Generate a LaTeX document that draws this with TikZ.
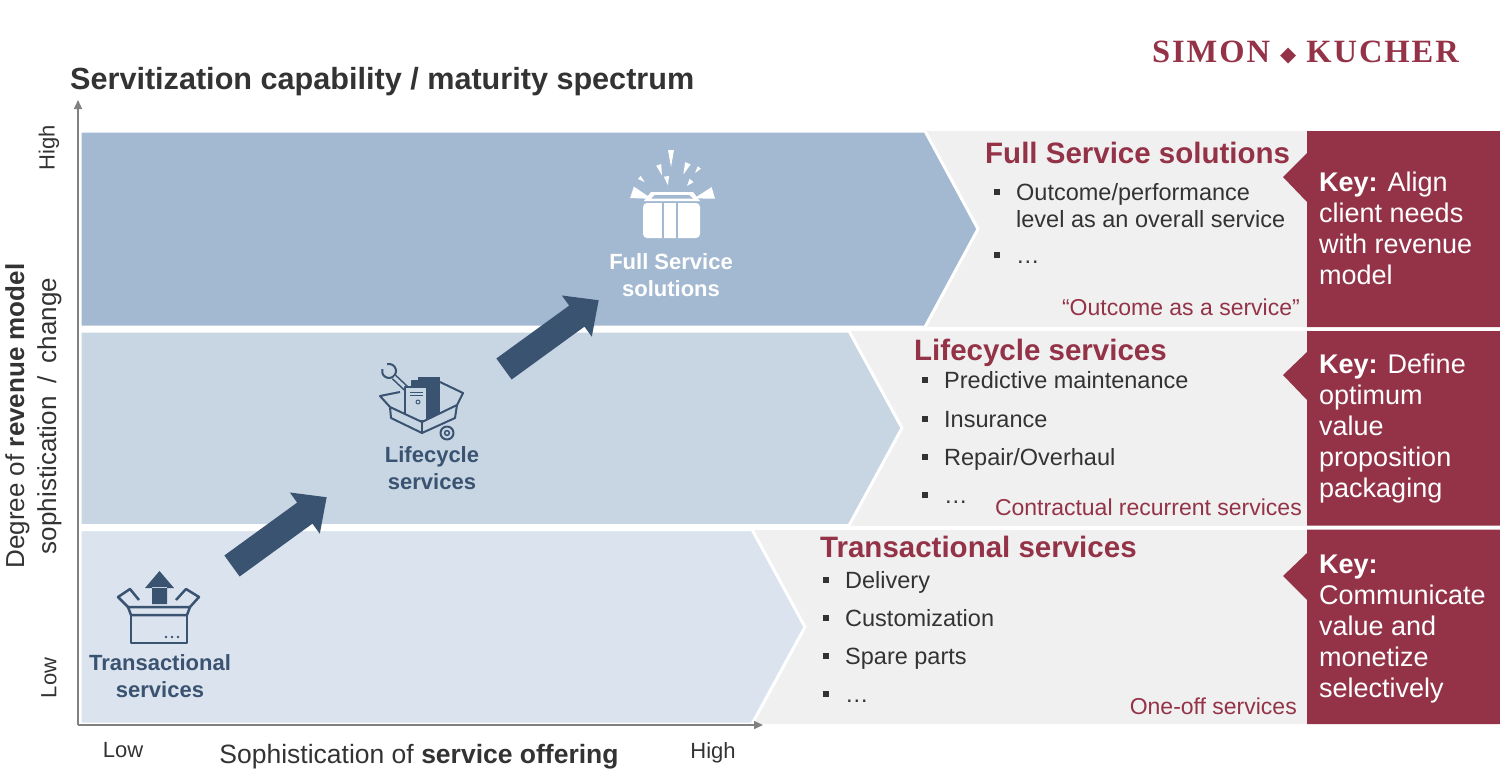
\documentclass[tikz,border=0pt]{standalone}
\usepackage{fontspec}
\setmainfont{Liberation Sans}
\newfontfamily\logofont[LetterSpace=6]{Liberation Serif}
\newfontfamily\symbolfont{DejaVu Sans}
\usetikzlibrary{arrows.meta, positioning}

\definecolor{bandtop}{HTML}{A3B9D1}
\definecolor{bandmid}{HTML}{C8D5E3}
\definecolor{bandlow}{HTML}{DBE4EE}
\definecolor{panelgrey}{HTML}{F0F0F0}
\definecolor{skred}{HTML}{943348}
\definecolor{skblue}{HTML}{3A5371}
\definecolor{txtdark}{HTML}{333333}
\definecolor{axisgrey}{HTML}{808080}

\newcommand{\sqbullet}{\makebox[22pt][l]{\raisebox{5.5pt}{\rule{6pt}{6pt}}}}

\tikzset{
  band/.style={draw=white, line width=3pt},
  heading/.style={anchor=base west, inner sep=0pt, text=skred, font=\fontsize{29.5}{32}\selectfont\bfseries},
  item/.style={anchor=base west, inner sep=0pt, text=txtdark, font=\fontsize{23.5}{27}\selectfont},
  kind/.style={anchor=base east, inner sep=0pt, text=skred, font=\fontsize{23}{27}\selectfont},
  keytext/.style={anchor=base west, inner sep=0pt, align=left, text=white, font=\fontsize{27}{31}\selectfont},
  iconlabel/.style={anchor=base, inner sep=0pt, align=center, font=\fontsize{22}{26.5}\selectfont\bfseries},
  icon/.style={skblue, line width=2.5pt, line join=round},
  bigarrow/.style={fill=skblue},
  axis/.style={draw=axisgrey, line width=1.5pt, -{Triangle[length=9pt, width=8pt]}},
  axistitle/.style={inner sep=0pt, text=txtdark, font=\fontsize{26}{31}\selectfont},
  axisend/.style={inner sep=0pt, text=txtdark, font=\fontsize{22}{26}\selectfont},
}

\begin{document}
\begin{tikzpicture}[x=1pt, y=-1pt]
  \useasboundingbox (0,0) rectangle (1500,780);

  \node[anchor=base west, inner sep=0pt, text=txtdark, font=\fontsize{30.6}{36}\selectfont\bfseries] (title) at (70,89) {Servitization capability / maturity spectrum};
  \node[anchor=base east, inner sep=0pt, text=skred, font=\logofont\fontsize{32.5}{33}\selectfont\bfseries] (logo) at (1459,62) {SIMON \raisebox{1pt}{\symbolfont\fontsize{21}{21}\selectfont ◆} KUCHER};

  % panels behind the chevrons
  \fill[panelgrey] (80,131) rectangle (1307,327);
  \fill[panelgrey] (80,331) rectangle (1307,525.5);
  \fill[panelgrey] (80,529.5) rectangle (1307,724);
  \filldraw[band, fill=bandtop] (80,131) -- (925,131) -- (978,229) -- (925,327) -- (80,327) -- cycle;
  \filldraw[band, fill=bandmid] (80,331) -- (849,331) -- (902,428) -- (849,525.5) -- (80,525.5) -- cycle;
  \filldraw[band, fill=bandlow] (80,529.5) -- (752,529.5) -- (805,627) -- (752,724) -- (80,724) -- cycle;

  \fill[skred] (1307,131) rectangle (1500,327) (1307,153) -- (1283,177) -- (1307,202) -- cycle;
  \fill[skred] (1307,331) rectangle (1500,525.5) (1307,352) -- (1283,375) -- (1307,400) -- cycle;
  \fill[skred] (1307,529.5) rectangle (1500,724) (1307,553) -- (1283,576) -- (1307,600) -- cycle;

  % full service
  \node[heading] (fullhead) at (985,163) {Full Service solutions};
  \node[item] (fullA) at (994,200) {\sqbullet\parbox[t]{280pt}{Outcome/performance\\level as an overall service}};
  \node[item] (fullB) at (994,263) {\sqbullet …};
  \node[kind] (fullkind) at (1300,315) {“Outcome as a service”};
  \node[keytext] (fullkey) at (1319,284) {\textbf{Key:} Align\\client needs\\with revenue\\model};

  % lifecycle
  \node[heading] (lifehead) at (914,360) {Lifecycle services};
  \node[item] (lifeA) at (922,388) {\sqbullet Predictive maintenance};
  \node[item] (lifeB) at (922,427) {\sqbullet Insurance};
  \node[item] (lifeC) at (922,465) {\sqbullet Repair/Overhaul};
  \node[item] (lifeD) at (922,503) {\sqbullet …};
  \node[kind] (lifekind) at (1302,515) {Contractual recurrent services};
  \node[keytext] (lifekey) at (1319,497) {\textbf{Key:} Define\\optimum\\value\\proposition\\packaging};

  % transactional
  \node[heading] (transhead) at (820,557) {Transactional services};
  \node[item] (transA) at (823,588) {\sqbullet Delivery};
  \node[item] (transB) at (823,626) {\sqbullet Customization};
  \node[item] (transC) at (823,664) {\sqbullet Spare parts};
  \node[item] (transD) at (823,702) {\sqbullet …};
  \node[kind] (transkind) at (1297,714) {One-off services};
  \node[keytext] (transkey) at (1319,697) {\textbf{Key:}\\Communicate\\value and\\monetize\\selectively};

  % icons
  \begin{scope}[icon]
    \draw (131,615) rectangle (187,643);
    \draw (128,607) -- (190,607) -- (187,615) -- (131,615) -- cycle;
    \draw (128,607) -- (118,597) -- (130,589) -- (139,600);
    \draw (190,607) -- (199,597) -- (186,589) -- (176,600);
  \end{scope}
  \fill[skblue] (152,587) rectangle (167,604) (145,588) -- (159.5,571) -- (174,588) -- cycle;
  \foreach \dx in {166,172,178}
    \fill[skblue] (\dx,637) circle (1.3);
  \node[iconlabel, text=skblue] (translabel) at (160,697) {Transactional\\services};

  \begin{scope}[icon, line width=2pt]
    \draw (387.2,364.2) arc[start angle=255, end angle=555, radius=7];
    \draw[double=bandmid, double distance=3pt, line width=1.6pt] (394,377) -- (412,394);
    \fill (418,377) rectangle (440,415);
    \filldraw[fill=skblue] (412,381) rectangle (433,418);
    \filldraw[fill=bandmid] (405,387) rectangle (427,421);
    \draw[line width=1pt] (410,392) -- (423,392) (410,395) -- (423,395);
    \draw[line width=1pt] (418,402) circle (2);
    \filldraw[fill=bandmid] (390,407) -- (422,422) -- (457,405) -- (455,418) -- (422,433) -- (391,418) -- cycle;
    \draw (422,422) -- (422,433);
    \draw (390,407) -- (380,396) -- (400,392);
    \draw (440,382) -- (463,393) -- (457,405);
    \filldraw[fill=bandmid] (447,433) circle (6.5);
    \draw[line width=1.5pt] (447,433) circle (2.4);
  \end{scope}
  \node[iconlabel, text=skblue] (lifelabel) at (432,489) {Lifecycle\\services};

  \fill[white, rounded corners=4pt] (643,203) rectangle (700,238);
  \draw[bandtop, line width=2pt] (663,203) -- (663,238) (677,203) -- (677,238);
  \fill[white] (644,201) -- (651,192) -- (693,192) -- (700,201) -- cycle;
  \fill[bandtop] (651,198.5) -- (655,195) -- (689,195) -- (693,198.5) -- cycle;
  \foreach \a/\ra/\rb/\w in {90/38/55/3, 107/31/42/2.6, 68/33/45/3, 53/40/47/2, 139/35/42/2, 99/20/29/2.6, 50/25/32/2.6, 162/20/41/6, 16/24/44/6}
    \fill[white, shift={(671,205)}, rotate=\a] (\ra,0) -- (\rb,-\w) -- (\rb,\w) -- cycle;
  \node[iconlabel, text=white] (fulllabel) at (671,296) {Full Service\\solutions};

  \foreach \x/\y in {232/566, 504/369}
    \fill[bigarrow, shift={(\x,\y)}, rotate=36] (0,-13) -- (90,-13) -- (90,-25.5) -- (117,0) -- (90,25.5) -- (90,13) -- (0,13) -- cycle;

  % axes
  \coordinate (origin) at (78,725);
  \coordinate (ytip) at (78,100);
  \coordinate (xtip) at (763,725);
  \draw[axis] (origin) -- (ytip);
  \draw[axis] (origin) -- (xtip);
  \node[axistitle, rotate=90, anchor=base] (ytitleA) at (24,416) {Degree of \textbf{revenue model}};
  \node[axistitle, rotate=90, anchor=base] (ytitleB) at (56,416) {sophistication\enspace/\enspace{}change};
  \node[axisend, rotate=90] (yhigh) at (49,148) {High};
  \node[axisend, rotate=90] (ylow) at (49,678) {Low};
  \node[axistitle, anchor=base, font=\fontsize{26.5}{31}\selectfont] (xtitle) at (419,763) {Sophistication of \textbf{service offering}};
  \node[axisend, anchor=base] (xlow) at (123,757) {Low};
  \node[axisend, anchor=base] (xhigh) at (713,758) {High};
\end{tikzpicture}
\end{document}
